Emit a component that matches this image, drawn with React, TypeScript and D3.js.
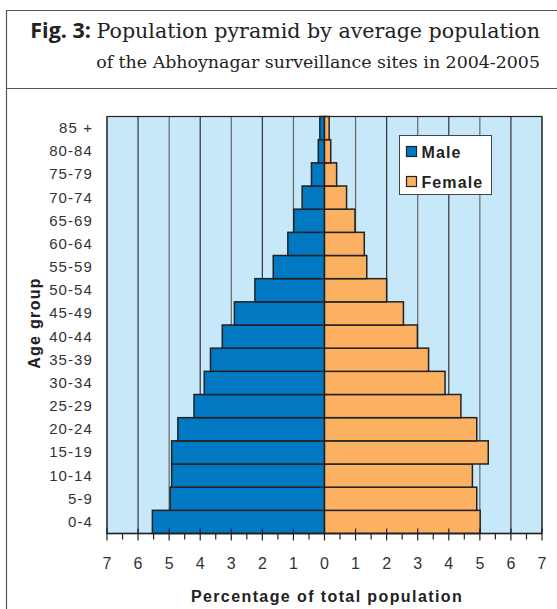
import React, { useRef, useEffect } from 'react';
import * as d3 from 'd3';

const ageGroups = ['0-4', '5-9', '10-14', '15-19', '20-24', '25-29', '30-34', '35-39', '40-44', '45-49', '50-54', '55-59', '60-64', '65-69', '70-74', '75-79', '80-84', '85 +'];
const maleValues = [5.54, 4.97, 4.92, 4.92, 4.72, 4.2, 3.87, 3.67, 3.29, 2.9, 2.24, 1.65, 1.18, 0.99, 0.72, 0.42, 0.2, 0.15];
const femaleValues = [5.01, 4.9, 4.76, 5.27, 4.9, 4.39, 3.88, 3.35, 2.99, 2.54, 2.0, 1.36, 1.28, 0.98, 0.71, 0.39, 0.2, 0.15];
const xTicks = [-7, -6, -5, -4, -3, -2, -1, 0, 1, 2, 3, 4, 5, 6, 7];
const seriesNames = ['Male', 'Female'];

const App = () => {
  const svgRef = useRef(null);

  useEffect(() => {
    const svg = d3.select(svgRef.current);
    svg.selectAll('*').remove();

    const width = 557;
    const height = 609;
    const plot = { left: 107, right: 542, top: 116.5, bottom: 533.5 };
    const maleColor = '#0079c2';
    const femaleColor = '#fbb062';
    const sans = 'Liberation Sans, Arial, sans-serif';

    const xScale = d3.scaleLinear().domain([-7, 7]).range([plot.left, plot.right]);
    const yScale = d3
      .scaleBand()
      .domain(ageGroups)
      .range([plot.bottom, plot.top])
      .padding(0);

    svg.append('rect').attr('width', width).attr('height', height).attr('fill', '#fff');

    // frame around header and chart
    svg
      .append('path')
      .attr('d', `M6.5,${height} V10.5 H${width} M6.5,88.5 H${width}`)
      .attr('fill', 'none')
      .attr('stroke', '#555')
      .attr('stroke-width', 1.2);

    // title
    const t1 = svg.append('text').attr('x', 540).attr('y', 38).attr('text-anchor', 'end').attr('fill', '#222');
    t1.append('tspan').attr('font-family', 'Open Sans, sans-serif').attr('font-weight', 'bold').attr('font-size', 21.5).text('Fig. 3: ');
    t1.append('tspan').attr('font-family', 'DejaVu Serif, serif').attr('font-size', 20.6).text('Population pyramid by average population');
    svg
      .append('text')
      .attr('x', 540)
      .attr('y', 68)
      .attr('text-anchor', 'end')
      .attr('fill', '#222')
      .attr('font-family', 'DejaVu Serif, serif')
      .attr('font-size', 17.4)
      .text('of the Abhoynagar surveillance sites in 2004-2005');

    // plot background
    svg
      .append('rect')
      .attr('x', plot.left)
      .attr('y', plot.top)
      .attr('width', plot.right - plot.left)
      .attr('height', plot.bottom - plot.top)
      .attr('fill', '#c7e8f8');

    // vertical grid lines
    svg
      .selectAll('.grid')
      .data(xTicks)
      .enter()
      .append('line')
      .attr('class', 'grid')
      .attr('x1', d => xScale(d))
      .attr('x2', d => xScale(d))
      .attr('y1', plot.top)
      .attr('y2', plot.bottom)
      .attr('stroke', (d, i) => (i % 2 ? '#333' : '#666'))
      .attr('stroke-width', 1.2);

    // male bars
    svg
      .selectAll('.male-bar')
      .data(maleValues)
      .enter()
      .append('rect')
      .attr('class', 'male-bar')
      .attr('x', d => xScale(-d))
      .attr('y', (d, i) => yScale(ageGroups[i]))
      .attr('width', d => xScale(0) - xScale(-d))
      .attr('height', yScale.bandwidth())
      .attr('fill', maleColor)
      .attr('stroke', '#222')
      .attr('stroke-width', 1.5);

    // female bars
    svg
      .selectAll('.female-bar')
      .data(femaleValues)
      .enter()
      .append('rect')
      .attr('class', 'female-bar')
      .attr('x', xScale(0))
      .attr('y', (d, i) => yScale(ageGroups[i]))
      .attr('width', d => xScale(d) - xScale(0))
      .attr('height', yScale.bandwidth())
      .attr('fill', femaleColor)
      .attr('stroke', '#222')
      .attr('stroke-width', 1.5);

    // plot border
    svg
      .append('rect')
      .attr('x', plot.left)
      .attr('y', plot.top)
      .attr('width', plot.right - plot.left)
      .attr('height', plot.bottom - plot.top)
      .attr('fill', 'none')
      .attr('stroke', '#222')
      .attr('stroke-width', 1.2);

    // x axis: major ticks crossing, minor ticks at halves
    const axis = svg.append('g').attr('transform', `translate(0, ${plot.bottom})`);
    axis
      .append('line')
      .attr('x1', plot.left)
      .attr('x2', plot.right)
      .attr('stroke', '#222')
      .attr('stroke-width', 1.5);
    axis
      .selectAll('.major')
      .data(xTicks)
      .enter()
      .append('line')
      .attr('x1', d => xScale(d))
      .attr('x2', d => xScale(d))
      .attr('y1', -5)
      .attr('y2', 7)
      .attr('stroke', '#222')
      .attr('stroke-width', 1.2);
    axis
      .selectAll('.minor')
      .data(xTicks.slice(0, -1))
      .enter()
      .append('line')
      .attr('x1', d => xScale(d + 0.5))
      .attr('x2', d => xScale(d + 0.5))
      .attr('y1', 0)
      .attr('y2', 6)
      .attr('stroke', '#222')
      .attr('stroke-width', 1.2);
    axis
      .selectAll('.tick-label')
      .data(xTicks)
      .enter()
      .append('text')
      .attr('x', d => xScale(d))
      .attr('y', 35)
      .attr('text-anchor', 'middle')
      .attr('font-family', sans)
      .attr('font-size', 16)
      .attr('fill', '#333')
      .text(d => Math.abs(d));

    // y axis labels
    svg
      .selectAll('.age-label')
      .data(ageGroups)
      .enter()
      .append('text')
      .attr('x', 93)
      .attr('y', d => yScale(d) + yScale.bandwidth() / 2 + 5)
      .attr('text-anchor', 'end')
      .attr('font-family', sans)
      .attr('font-size', 15)
      .attr('letter-spacing', 1.1)
      .attr('fill', '#333')
      .text(d => d);

    // axis titles
    svg
      .append('text')
      .attr('x', 327)
      .attr('y', 602)
      .attr('text-anchor', 'middle')
      .attr('font-family', sans)
      .attr('font-weight', 'bold')
      .attr('font-size', 16)
      .attr('letter-spacing', 1.4)
      .attr('fill', '#222')
      .text('Percentage of total population');
    svg
      .append('text')
      .attr('transform', `translate(40, 323) rotate(-90)`)
      .attr('text-anchor', 'middle')
      .attr('font-family', sans)
      .attr('font-weight', 'bold')
      .attr('font-size', 16)
      .attr('letter-spacing', 1.3)
      .attr('fill', '#222')
      .text('Age group');

    // legend
    const legend = svg.append('g').attr('transform', 'translate(399.5, 135.5)');
    legend
      .append('rect')
      .attr('width', 92)
      .attr('height', 59)
      .attr('fill', '#fff')
      .attr('stroke', '#444')
      .attr('stroke-width', 1);
    legend
      .selectAll('.legend-item')
      .data(seriesNames)
      .enter()
      .append('g')
      .attr('transform', (d, i) => `translate(7, ${11 + i * 30})`)
      .each(function (d, i) {
        const g = d3.select(this);
        g.append('rect')
          .attr('width', 10)
          .attr('height', 10)
          .attr('fill', i === 0 ? maleColor : femaleColor)
          .attr('stroke', '#222')
          .attr('stroke-width', 1.2);
        g.append('text')
          .attr('x', 15)
          .attr('y', 11)
          .attr('font-family', sans)
          .attr('font-weight', 'bold')
          .attr('font-size', 16)
          .attr('letter-spacing', 1.1)
          .attr('fill', '#222')
          .text(d);
      });
  }, []);

  return (
    <svg
      ref={svgRef}
      width={557}
      height={609}
      style={{ position: 'absolute', left: 0, top: 0 }}
    />
  );
};

export default App;
